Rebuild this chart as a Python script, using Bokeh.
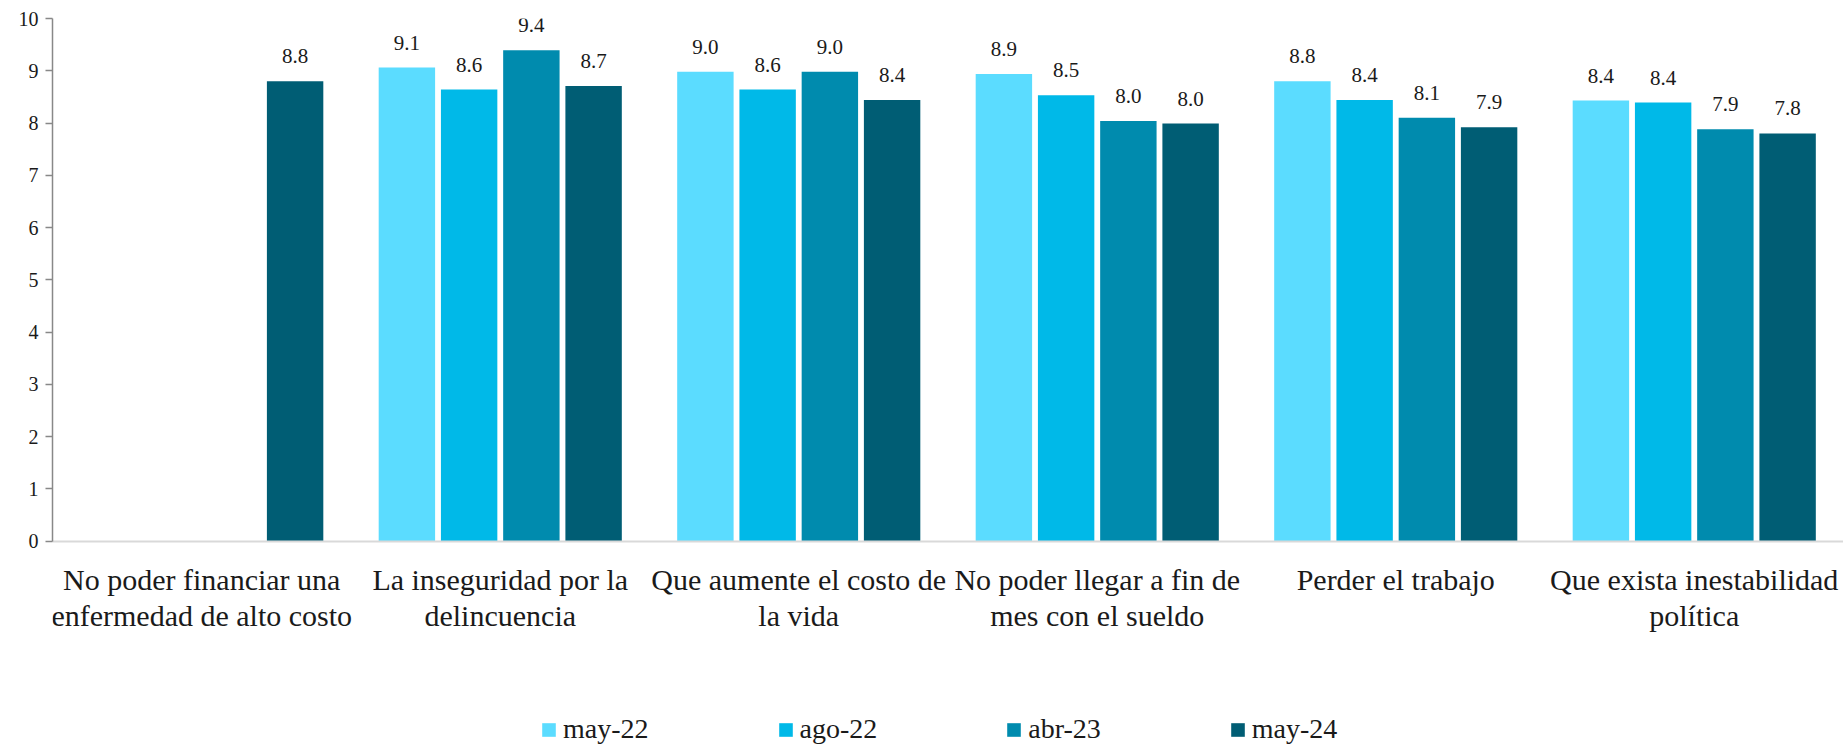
from bokeh.plotting import figure
from bokeh.models import ColumnDataSource, Range1d, FactorRange, Legend, LegendItem
from bokeh.transform import dodge
from bokeh.core.properties import value
from bokeh.embed import file_html
from bokeh.resources import INLINE

categories = [
    "No poder financiar una\nenfermedad de alto costo",
    "La inseguridad por la\ndelincuencia",
    "Que aumente el costo de\nla vida",
    "No poder llegar a fin de\nmes con el sueldo",
    "Perder el trabajo",
    "Que exista inestabilidad\npolítica",
]
series_names = ["may-22", "ago-22", "abr-23", "may-24"]
may22 = [None, 9.06, 8.98, 8.94, 8.80, 8.43]
ago22 = [None, 8.64, 8.64, 8.53, 8.44, 8.39]
abr23 = [None, 9.39, 8.98, 8.04, 8.10, 7.88]
may24 = [8.80, 8.71, 8.44, 7.99, 7.92, 7.80]
colors = ["#5BDCFF", "#00B9E8", "#008BAE", "#005D74"]
y_ticks = list(range(0, 11))

FONT = "Liberation Serif"
W, H = 1843, 745
left, top = 52, 18
frame_h = H - top
ppu = 522.5 / 10.0
y_start = -(frame_h - 522.5) / ppu

p = figure(x_range=FactorRange(factors=categories), y_range=Range1d(y_start, 10),
           width=W, height=H, output_backend="svg", toolbar_location=None,
           min_border_left=left, min_border_right=0, min_border_top=top,
           min_border_bottom=0)
p.outline_line_color = None
p.xgrid.grid_line_color = None
p.ygrid.grid_line_color = None
p.background_fill_color = "white"
p.border_fill_color = "white"

step = 0.2085
bw = 0.189
offsets = [-1.5 * step, -0.5 * step, 0.5 * step, 1.5 * step]
items = []
for name, vals, col, off in zip(series_names, [may22, ago22, abr23, may24], colors, offsets):
    ys = [float("nan") if v is None else v for v in vals]
    labels = ["" if v is None else f"{v:.1f}" for v in vals]
    src = ColumnDataSource(dict(cat=categories, val=ys, lab=labels))
    r = p.vbar(x=dodge("cat", off, range=p.x_range), top="val", width=bw, source=src,
               fill_color=col, line_color=None)
    p.text(x=dodge("cat", off, range=p.x_range), y="val", text="lab", source=src,
           text_font=value(FONT), text_font_size="21px", text_color="#1a1a1a",
           text_align="center", text_baseline="alphabetic", y_offset=-25)
    items.append(LegendItem(label=name, renderers=[r]))

yax = p.yaxis[0]
yax.ticker = y_ticks
yax.bounds = (0, 10)
yax.axis_line_color = "#888888"
yax.axis_line_width = 1.5
yax.major_tick_line_color = "#888888"
yax.major_tick_line_width = 1.5
yax.major_tick_out = 7
yax.major_tick_in = 0
yax.minor_tick_line_color = None
yax.major_label_text_font = FONT
yax.major_label_text_font_size = "20px"
yax.major_label_text_color = "#1a1a1a"
yax.major_label_standoff = 7

xax = p.xaxis[0]
xax.fixed_location = 0
xax.axis_line_color = "#D9D9D9"
xax.axis_line_width = 2
xax.major_tick_line_color = None
xax.minor_tick_line_color = None
xax.major_label_text_font = FONT
xax.major_label_text_font_size = "30px"
xax.major_label_text_color = "#1a1a1a"
xax.major_label_standoff = 16
xax.major_label_text_line_height = 1.1

legend = Legend(items=items, orientation="horizontal", location=(488, 0),
                spacing=128, glyph_width=17, glyph_height=17, label_standoff=6,
                label_text_font=FONT, label_text_font_size="28px",
                label_text_color="#1a1a1a", border_line_color=None,
                background_fill_alpha=0, padding=0, margin=0)
p.add_layout(legend, "center")

open("out.html", "w").write(file_html(p, INLINE))
